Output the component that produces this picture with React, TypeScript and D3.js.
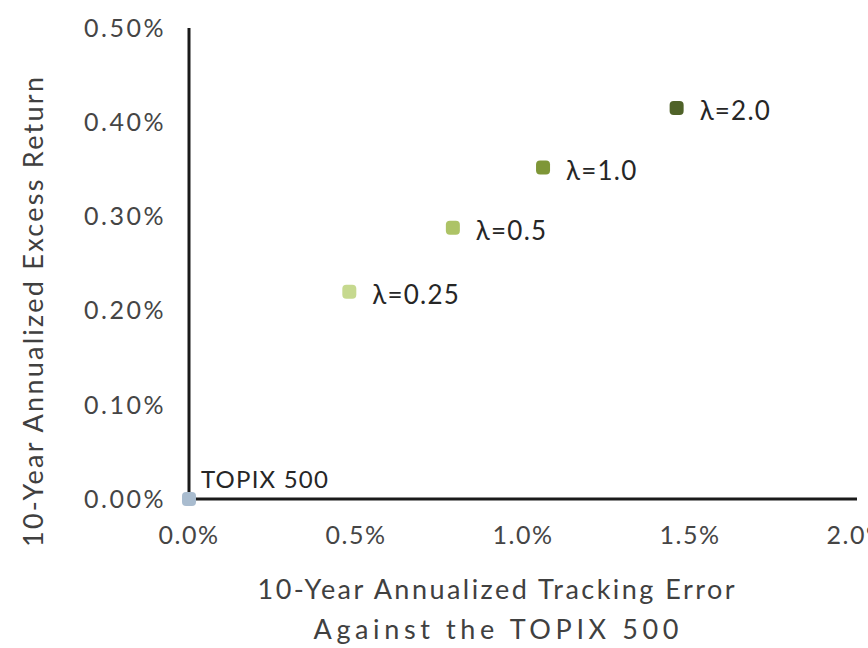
import { useEffect, useRef } from 'react';
import * as d3 from 'd3';

const pointLabels = ['TOPIX 500', 'λ=0.25', 'λ=0.5', 'λ=1.0', 'λ=2.0'];
const trackingError = [0, 0.48, 0.79, 1.06, 1.46];
const excessReturn = [0, 0.22, 0.288, 0.352, 0.415];

const xTicks = [0, 0.5, 1.0, 1.5, 2.0];
const yTicks = [0, 0.1, 0.2, 0.3, 0.4, 0.5];

const xTitle = ['10-Year Annualized Tracking Error', 'Against the TOPIX 500'];
const yTitle = '10-Year Annualized Excess Return';

const pointColors = ['#a9bccf', '#c6d98f', '#adc366', '#7e9637', '#4f6228'];

interface Pt {
  label: string;
  te: number;
  ret: number;
  color: string;
}

export default function App() {
  const svgRef = useRef<SVGSVGElement>(null);

  useEffect(() => {
    if (!svgRef.current) return;
    const W = 868;
    const H = 648;
    const font = 'Lato, "Open Sans", sans-serif';

    const svg = d3.select(svgRef.current).attr('width', W).attr('height', H);
    svg.selectAll('*').remove();

    svg.append('rect').attr('width', W).attr('height', H).attr('fill', '#fff');

    const x = d3.scaleLinear().domain([0, 2]).range([189, 857]);
    const y = d3.scaleLinear().domain([0, 0.5]).range([499, 28]);

    const data: Pt[] = pointLabels.map((label, i) => ({
      label,
      te: trackingError[i],
      ret: excessReturn[i],
      color: pointColors[i],
    }));

    // y tick labels
    svg
      .append('g')
      .selectAll('text')
      .data(yTicks)
      .join('text')
      .attr('x', 166)
      .attr('y', (d) => y(d))
      .attr('dy', '0.35em')
      .attr('text-anchor', 'end')
      .attr('font-family', font)
      .attr('font-size', 25)
      .attr('letter-spacing', 2.5)
      .attr('fill', '#454545')
      .text((d) => `${d.toFixed(2)}%`);

    // x tick labels
    svg
      .append('g')
      .selectAll('text')
      .data(xTicks)
      .join('text')
      .attr('x', (d) => x(d))
      .attr('y', 535)
      .attr('dy', '0.35em')
      .attr('text-anchor', 'middle')
      .attr('font-family', font)
      .attr('font-size', 25)
      .attr('letter-spacing', 1.5)
      .attr('fill', '#454545')
      .text((d) => `${d.toFixed(1)}%`);

    // axis lines
    svg
      .append('line')
      .attr('x1', x(0))
      .attr('x2', x(0))
      .attr('y1', y(0.5))
      .attr('y2', y(0))
      .attr('stroke', '#1a1a1a')
      .attr('stroke-width', 3);
    svg
      .append('line')
      .attr('x1', x(0))
      .attr('x2', x(2))
      .attr('y1', y(0))
      .attr('y2', y(0))
      .attr('stroke', '#1a1a1a')
      .attr('stroke-width', 3);

    // axis titles
    svg
      .append('text')
      .attr('transform', `translate(34,312) rotate(-90)`)
      .attr('dy', '0.35em')
      .attr('text-anchor', 'middle')
      .attr('font-family', font)
      .attr('font-size', 27)
      .attr('textLength', 470)
      .attr('lengthAdjust', 'spacing')
      .attr('fill', '#404040')
      .text(yTitle);

    svg
      .append('g')
      .selectAll('text')
      .data(xTitle)
      .join('text')
      .attr('x', 496)
      .attr('y', (_, i) => 590 + i * 40)
      .attr('dy', '0.35em')
      .attr('text-anchor', 'middle')
      .attr('font-family', font)
      .attr('font-size', 27)
      .attr('textLength', (_, i) => (i === 0 ? 477 : 365))
      .attr('lengthAdjust', 'spacing')
      .attr('fill', '#404040')
      .text((d) => d);

    // points
    const s = 14;
    svg
      .append('g')
      .selectAll('rect')
      .data(data)
      .join('rect')
      .attr('x', (d) => x(d.te) - s / 2)
      .attr('y', (d) => y(d.ret) - s / 2)
      .attr('width', s)
      .attr('height', s)
      .attr('rx', 4)
      .attr('fill', (d) => d.color);

    // point labels
    svg
      .append('g')
      .selectAll('text')
      .data(data)
      .join('text')
      .attr('x', (d) => x(d.te) + (d.te === 0 ? 12 : 23))
      .attr('y', (d) => y(d.ret) + (d.te === 0 ? -19 : 3))
      .attr('dy', '0.35em')
      .attr('font-family', font)
      .attr('font-size', (d) => (d.te === 0 ? 24 : 26))
      .attr('letter-spacing', 1.2)
      .attr('fill', '#262626')
      .text((d) => d.label);
  }, []);

  return (
    <div style={{ position: 'absolute', left: 0, top: 0 }}>
      <svg ref={svgRef} style={{ display: 'block' }}></svg>
    </div>
  );
}
